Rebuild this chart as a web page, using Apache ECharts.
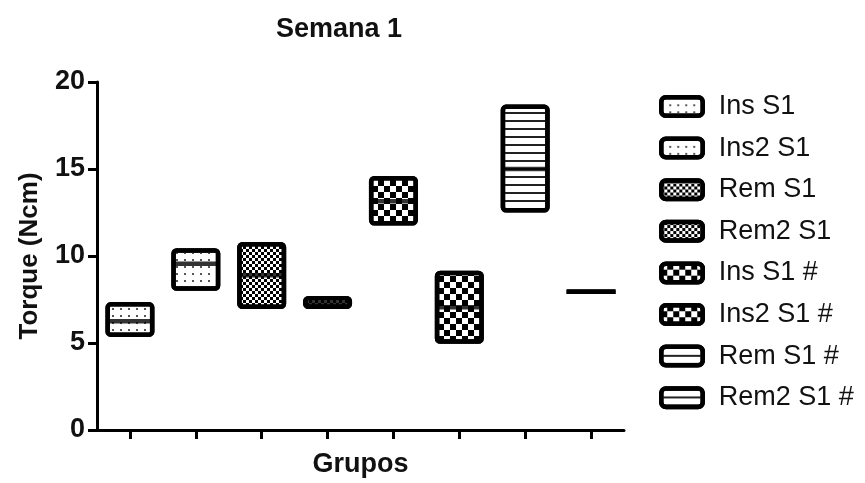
<!DOCTYPE html>
<html>
<head>
<meta charset="utf-8">
<script src="https://cdn.jsdelivr.net/npm/echarts@6/dist/echarts.min.js"></script>
<style>html,body{margin:0;padding:0;background:#fff}#c{width:865px;height:483px}</style>
</head>
<body>
<div id="c"></div>
<script>
var groups = ['Ins S1', 'Ins2 S1', 'Rem S1', 'Rem2 S1', 'Ins S1 #', 'Ins2 S1 #', 'Rem S1 #', 'Rem2 S1 #'];
var mins    = [5.35, 8.0, 6.95, 6.95, 11.75, 4.95, 12.5, 7.95];
var medians = [6.25, 9.55, 8.9, 7.3, 13.15, 7.05, 15.0, 7.95];
var maxs    = [7.35, 10.45, 10.8, 7.7, 14.6, 9.15, 18.7, 7.95];
var yTicks = [0, 5, 10, 15, 20];

var FONT = '"Liberation Sans", Arial, sans-serif';
var BW = 49, LW = 4.5;
var clear = 'rgba(0,0,0,0)';
var dots = { symbol: 'rect', symbolSize: 1, color: '#555', backgroundColor: clear, dashArrayX: [1.5, 5.5], dashArrayY: [1.5, 4.5] };
var fineCheck = { symbol: 'rect', symbolSize: 1, color: '#000', backgroundColor: clear, dashArrayX: [[2.8, 2.8], [0, 2.8, 2.8, 0]], dashArrayY: [2.8, 0] };
var bigCheck = { symbol: 'rect', symbolSize: 1, color: '#000', backgroundColor: clear, dashArrayX: [[6, 6], [0, 6, 6, 0]], dashArrayY: [6, 0] };
var hLines = { symbol: 'rect', symbolSize: 1, color: '#222', backgroundColor: clear, dashArrayX: [1, 0], dashArrayY: [1.6, 5.4] };
var decals = [dots, dots, fineCheck, fineCheck, bigCheck, bigCheck, hLines, hLines];

function only(i, v) {
  return groups.map(function (_, j) { return j === i ? v : '-'; });
}

var series = [{
  name: '_base', type: 'bar', stack: 's', barWidth: BW, silent: true,
  itemStyle: { color: clear },
  data: mins.slice()
}];
groups.forEach(function (g, i) {
  series.push({
    name: g, type: 'bar', stack: 's', barWidth: BW,
    itemStyle: { color: '#fff', borderColor: '#000', borderWidth: LW, borderRadius: 3, decal: decals[i] },
    data: only(i, +(maxs[i] - mins[i]).toFixed(3))
  });
});
series.push({
  name: '_median', type: 'scatter', symbol: 'rect', symbolSize: [BW - 1, LW], silent: true, z: 5,
  itemStyle: { color: '#000' },
  data: medians.slice()
});

var chart = echarts.init(document.getElementById('c'), null, { renderer: 'canvas' });
chart.setOption({
  animation: false,
  backgroundColor: '#fff',
  title: {
    text: 'Semana 1', left: 271, top: 11,
    textStyle: { fontFamily: FONT, fontWeight: 'bold', fontSize: 27, color: '#111' }
  },
  legend: {
    data: groups, orient: 'vertical', left: 659, top: 93, padding: 0,
    itemWidth: 41.5, itemHeight: 18.5, itemGap: 14.6, icon: 'roundRect',
    itemStyle: { borderWidth: LW, borderColor: '#000' },
    textStyle: { fontFamily: FONT, fontSize: 27, color: '#111', padding: [0, 0, 0, 11] }
  },
  grid: { left: 97, top: 82, width: 527, bottom: 52 },
  xAxis: {
    type: 'category', data: groups,
    name: 'Grupos', nameLocation: 'middle', nameGap: 21,
    nameTextStyle: { fontFamily: FONT, fontWeight: 'bold', fontSize: 27, color: '#111' },
    axisLine: { lineStyle: { color: '#000', width: 3 } },
    axisTick: { show: true, alignWithLabel: true, interval: 0, length: 9, lineStyle: { color: '#000', width: 3 } },
    axisLabel: { show: false }
  },
  yAxis: {
    type: 'value', min: yTicks[0], max: yTicks[yTicks.length - 1], interval: 5,
    name: 'Torque (Ncm)', nameLocation: 'middle', nameGap: 54,
    nameTextStyle: { fontFamily: FONT, fontWeight: 'bold', fontSize: 26, color: '#111' },
    axisLine: { show: true, lineStyle: { color: '#000', width: 3 } },
    axisTick: { show: true, length: 9, lineStyle: { color: '#000', width: 3 } },
    axisLabel: { margin: 12, fontFamily: FONT, fontWeight: 'bold', fontSize: 27, color: '#111' },
    splitLine: { show: false }
  },
  series: series
});
</script>
</body>
</html>
